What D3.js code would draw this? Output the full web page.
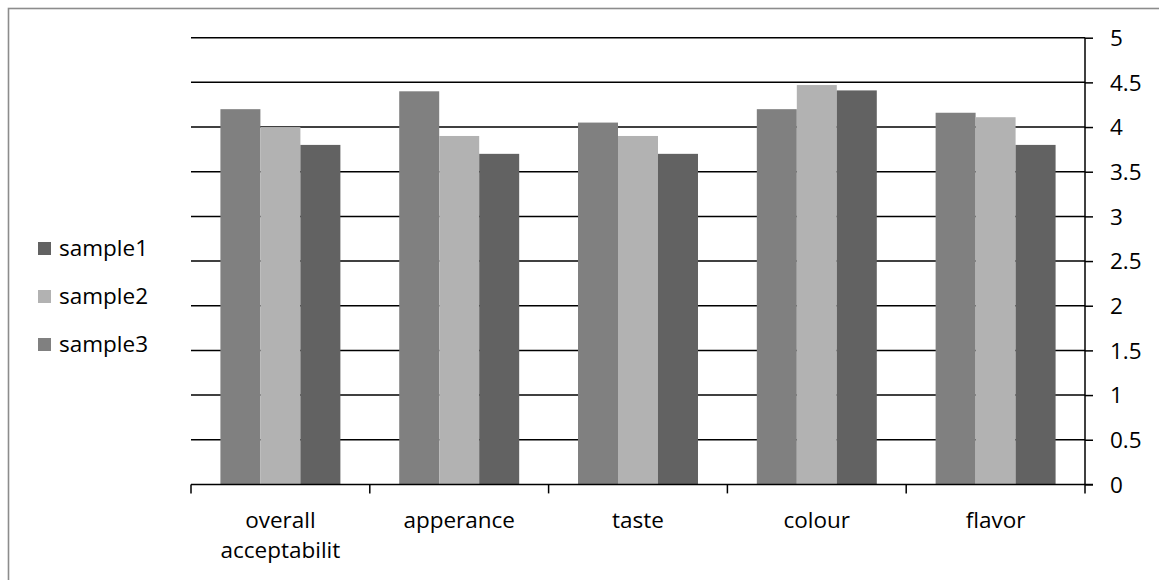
<!DOCTYPE html>
<html>
<head>
<meta charset="utf-8">
<script src="https://cdn.jsdelivr.net/npm/d3@7"></script>
<style>
  html, body { margin: 0; padding: 0; background: #fff; }
  svg { display: block; }
  text { font-family: "Open Sans", sans-serif; fill: #000; }
</style>
</head>
<body>
<svg id="chart" width="1159" height="580"></svg>
<script>
// Sensory scores per attribute
const categories = ["overall acceptabilit", "apperance", "taste", "colour", "flavor"];
const categoryLines = [["overall", "acceptabilit"], ["apperance"], ["taste"], ["colour"], ["flavor"]];
const sample1 = [3.8, 3.7, 3.7, 4.41, 3.8];
const sample2 = [4.0, 3.9, 3.9, 4.47, 4.11];
const sample3 = [4.2, 4.4, 4.05, 4.2, 4.16];
const seriesNames = ["sample1", "sample2", "sample3"];
const barOrder = ["sample3", "sample2", "sample1"];
const yTicks = [0, 0.5, 1, 1.5, 2, 2.5, 3, 3.5, 4, 4.5, 5];

const values = { sample1, sample2, sample3 };
const colors = { sample1: "#626262", sample2: "#b2b2b2", sample3: "#808080" };

const svg = d3.select("#chart");
const fontSize = 22.5;

// outer chart frame (runs off the right and bottom edges)
svg.append("rect")
  .attr("x", 8.5).attr("y", 8.5)
  .attr("width", 1200).attr("height", 620)
  .attr("fill", "none").attr("stroke", "#8c8c8c").attr("stroke-width", 1.6);

const plot = { left: 191, right: 1085, top: 37.7, bottom: 484.4 };

const x0 = d3.scaleBand().domain(categories).range([plot.left, plot.right]).padding(0);
const x1 = d3.scaleBand().domain(barOrder)
  .range([x0.bandwidth() * 0.1645, x0.bandwidth() * 0.8355]).padding(0);
const y = d3.scaleLinear().domain([0, 5]).range([plot.bottom, plot.top]);

// horizontal gridlines
svg.append("g").selectAll("line").data(yTicks.filter(t => t > 0)).join("line")
  .attr("x1", plot.left).attr("x2", plot.right)
  .attr("y1", d => y(d)).attr("y2", d => y(d))
  .attr("stroke", "#000").attr("stroke-width", 1.5);

// bars
const rows = categories.map((c, i) => ({ c, i }));
const groups = svg.append("g").selectAll("g").data(rows).join("g")
  .attr("transform", d => `translate(${x0(d.c)},0)`);
groups.selectAll("rect")
  .data(d => barOrder.map(s => ({ s, v: values[s][d.i] })))
  .join("rect")
  .attr("x", d => x1(d.s))
  .attr("width", x1.bandwidth())
  .attr("y", d => y(d.v))
  .attr("height", d => y(0) - y(d.v))
  .attr("fill", d => colors[d.s]);

// right value axis
const yAxis = d3.axisRight(y).tickValues(yTicks).tickSize(8).tickPadding(17)
  .tickFormat(d => d3.format("~g")(d));
const ya = svg.append("g").attr("transform", `translate(${plot.right},0)`).call(yAxis);
ya.select(".domain").attr("stroke", "#000").attr("stroke-width", 1.5)
  .attr("d", `M0,${plot.top}V${plot.bottom}`);
ya.selectAll(".tick line").attr("stroke", "#000").attr("stroke-width", 1.5).attr("x1", 0);
ya.selectAll(".tick text").attr("font-size", fontSize).attr("font-family", "Open Sans, sans-serif")
  .attr("fill", "#000").attr("dy", "0.35em");

// category axis at baseline
const xa = svg.append("g");
xa.append("line")
  .attr("x1", plot.left).attr("x2", plot.right + 8)
  .attr("y1", plot.bottom).attr("y2", plot.bottom)
  .attr("stroke", "#000").attr("stroke-width", 1.5);
const boundaries = categories.map(c => x0(c)).concat([x0(categories[categories.length - 1]) + x0.bandwidth()]);
xa.selectAll("line.tk").data(boundaries).join("line").attr("class", "tk")
  .attr("x1", d => d).attr("x2", d => d)
  .attr("y1", plot.bottom).attr("y2", plot.bottom + 9)
  .attr("stroke", "#000").attr("stroke-width", 1.5);
xa.selectAll("text.cat").data(rows).join("text").attr("class", "cat")
  .attr("text-anchor", "middle").attr("font-size", fontSize)
  .attr("x", d => x0(d.c) + x0.bandwidth() / 2)
  .selectAll("tspan").data(d => categoryLines[d.i].map((t, k) => ({ t, k })))
  .join("tspan")
  .attr("x", function () { return d3.select(this.parentNode).attr("x"); })
  .attr("y", d => 527.5 + d.k * 30)
  .text(d => d.t);

// legend
const legend = svg.append("g").selectAll("g").data(seriesNames).join("g")
  .attr("transform", (d, i) => `translate(38,${248.5 + i * 48})`);
legend.append("rect").attr("x", 0).attr("y", -6.5).attr("width", 13).attr("height", 13)
  .attr("fill", d => colors[d]);
legend.append("text").attr("x", 21).attr("dy", "0.35em").attr("font-size", fontSize)
  .text(d => d);
</script>
</body>
</html>
